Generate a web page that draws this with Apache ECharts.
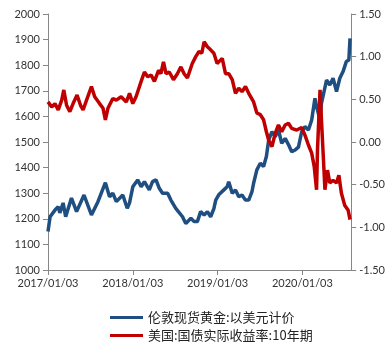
<!DOCTYPE html>
<html>
<head>
<meta charset="utf-8">
<script src="https://cdn.jsdelivr.net/npm/echarts@6/dist/echarts.min.js"></script>
<style>
	html, body { margin: 0; padding: 0; background: #fff; }
	#chart { width: 388px; height: 351px; }
</style>
</head>
<body>
<div id="chart"></div>
<script>
// days counted from 2017/01/03
const startDate = [2017, 0, 3];
const xTickDays = [0, 365, 730, 1095];

const goldDays = [0, 9, 30, 44, 51, 65, 76, 101, 123, 155, 187, 215, 247, 265, 279, 294, 322, 341, 351, 365,
	386, 401, 415, 436, 450, 465, 479, 493, 515, 529, 550, 579, 593, 615, 629, 643, 657, 672, 686, 700,
	714, 722, 736, 757, 771, 778, 793, 807, 821, 835, 850, 864, 878, 885, 899, 914, 928, 940, 950, 964,
	978, 992, 1006, 1021, 1035, 1049, 1064, 1078, 1092, 1106, 1121, 1135, 1149, 1156, 1171, 1177, 1199, 1213, 1227, 1242,
	1256, 1270, 1284, 1295, 1300];
const goldPrices = [1150, 1208, 1234, 1247, 1223, 1262, 1208, 1281, 1228, 1293, 1215, 1267, 1341, 1286, 1300, 1267, 1293, 1241, 1262, 1325,
	1352, 1325, 1345, 1313, 1345, 1352, 1319, 1300, 1300, 1273, 1241, 1208, 1182, 1202, 1189, 1189, 1228, 1215, 1228, 1208,
	1240, 1273, 1295, 1313, 1325, 1345, 1300, 1313, 1286, 1293, 1273, 1273, 1306, 1339, 1391, 1417, 1404, 1443, 1508, 1540,
	1521, 1547, 1495, 1514, 1490, 1462, 1469, 1480, 1540, 1560, 1547, 1586, 1671, 1638, 1586, 1651, 1742, 1723, 1749, 1697,
	1749, 1775, 1814, 1820, 1905];

const yieldDays = [0, 16, 30, 44, 59, 68, 80, 94, 108, 125, 140, 151, 166, 187, 201, 222, 237, 247, 258, 279,
	294, 315, 337, 351, 365, 379, 401, 415, 429, 444, 458, 476, 486, 497, 508, 522, 540, 557, 572, 586,
	600, 621, 636, 650, 662, 672, 686, 700, 714, 728, 750, 764, 778, 793, 807, 821, 835, 850, 864, 885,
	899, 914, 928, 940, 950, 964, 978, 992, 1006, 1021, 1035, 1049, 1071, 1092, 1106, 1121, 1135, 1146, 1156, 1160,
	1171, 1177, 1185, 1192, 1203, 1213, 1227, 1242, 1252, 1263, 1277, 1292, 1300];
const yieldRates = [0.47, 0.41, 0.45, 0.375, 0.49, 0.61, 0.43, 0.355, 0.45, 0.55, 0.43, 0.375, 0.49, 0.65, 0.53, 0.45, 0.395, 0.26, 0.395, 0.51,
	0.49, 0.53, 0.47, 0.57, 0.45, 0.53, 0.71, 0.82, 0.765, 0.785, 0.71, 0.84, 0.80, 0.94, 0.80, 0.82, 0.73, 0.80, 0.88, 0.80,
	0.75, 0.92, 1.0, 1.06, 1.04, 1.175, 1.117, 1.08, 1.04, 0.92, 0.98, 0.80, 0.80, 0.73, 0.57, 0.63, 0.59, 0.65, 0.57, 0.47,
	0.34, 0.32, 0.26, 0.12, 0.02, -0.055, 0.10, 0.20, 0.12, 0.20, 0.22, 0.16, 0.14, 0.17, 0.08, -0.035, -0.13, -0.29, -0.56, -0.09,
	0.61, 0.26, -0.17, -0.56, -0.33, -0.48, -0.45, -0.48, -0.39, -0.60, -0.74, -0.80, -0.91];

const leftTicks = { min: 1000, max: 2000, step: 100 };
const rightTicks = { min: -1.5, max: 1.5, step: 0.5 };

function dayLabel(d){
	if (xTickDays.indexOf(Math.round(d)) < 0) return '';
	let t = new Date(startDate[0], startDate[1], startDate[2] + Math.round(d));
	let mm = String(t.getMonth() + 1).padStart(2, '0');
	let dd = String(t.getDate()).padStart(2, '0');
	return t.getFullYear() + '/' + mm + '/' + dd;
}

let myChart = echarts.init(document.getElementById('chart'));
const axisGray = '#868686';
const labelFont = { color: '#333', fontSize: 11, fontFamily: 'Lato' };

let option = {
	animation: false,
	grid: { left: 48, right: 35, top: 14, bottom: 81 },
	legend: {
		orient: 'vertical',
		left: 105,
		top: 306,
		icon: 'rect',
		itemWidth: 33,
		itemHeight: 3,
		itemGap: 5,
		textStyle: { color: '#222', fontSize: 13, fontFamily: 'Noto Sans CJK SC' },
		data: ['伦敦现货黄金:以美元计价', '美国:国债实际收益率:10年期']
	},
	xAxis: {
		type: 'value',
		min: 0,
		max: 1305,
		interval: 365,
		axisLine: { onZero: false, lineStyle: { color: axisGray } },
		axisTick: { show: true, length: 5, lineStyle: { color: axisGray } },
		axisLabel: Object.assign({ margin: 8, showMaxLabel: false, formatter: dayLabel }, labelFont),
		splitLine: { show: false }
	},
	yAxis: [
		{
			type: 'value',
			min: leftTicks.min,
			max: leftTicks.max,
			interval: leftTicks.step,
			axisLine: { show: true, lineStyle: { color: axisGray } },
			axisTick: { show: true, length: 5, lineStyle: { color: axisGray } },
			axisLabel: Object.assign({ margin: 8, formatter: v => String(v) }, labelFont),
			splitLine: { show: false }
		},
		{
			type: 'value',
			min: rightTicks.min,
			max: rightTicks.max,
			interval: rightTicks.step,
			axisLine: { show: true, lineStyle: { color: axisGray } },
			axisTick: { show: true, length: 5, lineStyle: { color: axisGray } },
			axisLabel: Object.assign({ margin: 8, formatter: v => v.toFixed(2) }, labelFont),
			splitLine: { show: false }
		}
	],
	series: [
		{
			name: '伦敦现货黄金:以美元计价',
			type: 'line',
			yAxisIndex: 0,
			symbol: 'none',
			data: goldDays.map((d, i) => [d, goldPrices[i]]),
			lineStyle: { width: 3.5, color: '#1f4e80' },
			itemStyle: { color: '#1f4e80' }
		},
		{
			name: '美国:国债实际收益率:10年期',
			type: 'line',
			yAxisIndex: 1,
			symbol: 'none',
			data: yieldDays.map((d, i) => [d, yieldRates[i]]),
			lineStyle: { width: 3.5, color: '#c00000' },
			itemStyle: { color: '#c00000' }
		}
	]
};

myChart.setOption(option);
</script>
</body>
</html>
